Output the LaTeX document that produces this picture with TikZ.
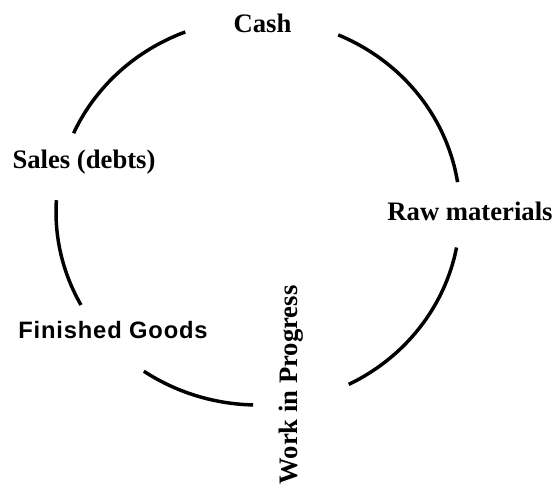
\documentclass[tikz,border=0pt]{standalone}
\usepackage{fontspec}
\setmainfont{Liberation Serif}
\newfontfamily\goodsfont[LetterSpace=3.5]{Liberation Sans}
\usepackage{tikz}

\tikzset{
  stage/.style={font=\fontsize{20}{24}\selectfont\bfseries, anchor=base, inner sep=0pt},
  ring/.style={line width=2.6pt}
}

\begin{document}
\begin{tikzpicture}[x=0.75pt,y=0.75pt]
              \useasboundingbox (0,0) rectangle (553,487);
              \coordinate (O) at (258,275);

              \foreach \a/\b in {111.1/155.9, 66.6/8.9, -10.6/-63.3, 268.6/235.6, 208.8/176.5}
                \draw[ring] (O) ++(\a:202 and 193) arc[start angle=\a, end angle=\b, x radius=202, y radius=193];

              \node[stage] (cash) at (262.5,455) {Cash};
              \node[stage] (raw) at (470,267) {Raw materials};
              \node[stage, rotate=90] (wip) at (297,102) {Work in Progress};
              \node[stage, font=\goodsfont\fontsize{17.8}{21}\selectfont\bfseries] (goods) at (113,149) {Finished Goods};
              \node[stage] (sales) at (84,318.5) {Sales (debts)};
             \end{tikzpicture}
\end{document}
